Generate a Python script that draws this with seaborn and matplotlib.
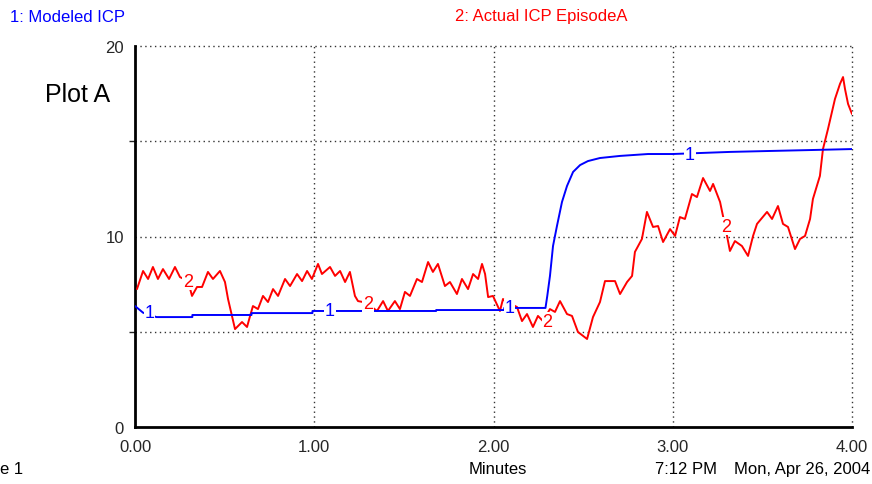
import matplotlib
matplotlib.use("Agg")
import matplotlib.pyplot as plt
import pandas as pd
import seaborn as sns

# Modeled ICP (series 1)
blue_t = [0.0, 0.045, 0.12, 0.32, 0.32, 0.65, 0.65, 0.99, 0.99, 1.68, 1.68, 2.06, 2.06, 2.29,
          2.30, 2.315, 2.332, 2.354, 2.382, 2.41, 2.444, 2.483, 2.527, 2.594, 2.706, 2.862,
          3.0, 3.319, 3.543, 3.777, 4.0]
blue_v = [6.35, 6.0, 5.77, 5.77, 5.88, 5.88, 5.98, 5.98, 6.09, 6.09, 6.14, 6.14, 6.25, 6.25,
          6.88, 7.93, 9.50, 10.55, 11.81, 12.65, 13.39, 13.75, 13.96, 14.12, 14.23, 14.33,
          14.33, 14.44, 14.49, 14.54, 14.59]

# Actual ICP EpisodeA (series 2)
red_t = [0.011, 0.045, 0.073, 0.100, 0.128, 0.156, 0.190, 0.223, 0.251, 0.296, 0.318, 0.346,
         0.374, 0.407, 0.435, 0.474, 0.502, 0.519, 0.541, 0.558, 0.575, 0.597, 0.625, 0.642,
         0.658, 0.686, 0.714, 0.742, 0.770, 0.798, 0.837, 0.865, 0.904, 0.932, 0.960, 0.987,
         1.021, 1.043, 1.088, 1.116, 1.144, 1.172, 1.199, 1.227, 1.244, 1.272, 1.300, 1.350,
         1.384, 1.411, 1.450, 1.478, 1.506, 1.534, 1.573, 1.601, 1.635, 1.662, 1.690, 1.729,
         1.757, 1.796, 1.824, 1.858, 1.886, 1.914, 1.936, 1.953, 1.970, 1.997, 2.036, 2.053,
         2.064, 2.131, 2.159, 2.187, 2.220, 2.248, 2.276, 2.315, 2.343, 2.371, 2.410, 2.438,
         2.471, 2.522, 2.555, 2.594, 2.622, 2.678, 2.706, 2.745, 2.773, 2.789, 2.828, 2.856,
         2.890, 2.918, 2.946, 2.985, 3.013, 3.040, 3.068, 3.107, 3.135, 3.169, 3.208, 3.225,
         3.264, 3.292, 3.319, 3.347, 3.386, 3.420, 3.448, 3.470, 3.526, 3.554, 3.587, 3.615,
         3.643, 3.682, 3.710, 3.738, 3.766, 3.782, 3.821, 3.838, 3.866, 3.905, 3.933, 3.950,
         3.961, 3.978, 4.000]
red_v = [7.24, 8.19, 7.77, 8.40, 7.77, 8.29, 7.77, 8.40, 7.87, 7.66, 6.88, 7.35,
         7.35, 8.14, 7.77, 8.19, 7.61, 6.72, 5.83, 5.14, 5.30, 5.51, 5.25, 5.83,
         6.35, 6.19, 6.88, 6.56, 7.24, 6.88, 7.77, 7.40, 8.03, 7.66, 8.19, 7.77,
         8.56, 8.03, 8.40, 7.93, 8.19, 7.61, 8.14, 6.88, 6.61, 6.56, 6.46, 6.09,
         6.61, 6.09, 6.61, 6.19, 7.09, 6.88, 7.77, 7.61, 8.66, 8.14, 8.56, 7.40,
         7.61, 6.98, 7.77, 7.24, 8.03, 7.77, 8.56, 8.03, 6.82, 6.88, 6.09, 6.72,
         6.61, 6.30, 5.56, 5.93, 5.25, 5.83, 5.56, 6.19, 6.04, 6.61, 5.93, 5.83,
         4.99, 4.62, 5.77, 6.56, 7.66, 7.66, 6.98, 7.61, 7.93, 9.19, 9.87, 11.29,
         10.50, 10.55, 9.71, 10.39, 10.03, 11.02, 10.92, 12.23, 12.07, 13.07, 12.39, 12.76,
         11.81, 10.55, 9.24, 9.76, 9.50, 8.98, 10.03, 10.66, 11.29, 10.92, 11.60, 10.66,
         10.50, 9.34, 9.87, 10.03, 10.92, 11.97, 13.18, 14.59, 15.64, 17.22, 18.01, 18.37,
         17.74, 16.96, 16.43]

# curve number markers (STELLA style)
label1_t = [0.08, 1.088, 2.09, 3.096]
label2_t = [0.296, 1.30, 2.30, 3.30]

x_ticks = [0, 1, 2, 3, 4]
x_labels = ["0.00", "1.00", "2.00", "3.00", "4.00"]
y_ticks = [0, 10, 20]

BLUE = "#0000ff"
RED = "#ff0000"

sns.set_style("white")
plt.rcParams['font.family'] = ['Liberation Sans', 'DejaVu Sans']

fig = plt.figure(figsize=(8.72, 4.85), dpi=100)
ax = fig.add_axes([135 / 872, 1 - 428 / 485, 717 / 872, 381 / 485])

blue_df = pd.DataFrame({"t": blue_t, "v": blue_v})
red_df = pd.DataFrame({"t": red_t, "v": red_v})
sns.lineplot(data=red_df, x="t", y="v", ax=ax, color=RED, lw=1.4, sort=False, estimator=None, zorder=3)
sns.lineplot(data=blue_df, x="t", y="v", ax=ax, color=BLUE, lw=1.4, sort=False, estimator=None, zorder=4)

ax.set_xlim(0, 4)
ax.set_ylim(0, 20)

# dotted grid, incl. the top and right edges
for yv in [5, 10, 15, 20]:
    ax.axhline(yv, color="#333333", ls=(0, (1, 2.5)), lw=1, zorder=1, clip_on=False)
for xv in [1, 2, 3, 4]:
    ax.axvline(xv, color="#333333", ls=(0, (1, 2.5)), lw=1, zorder=1, clip_on=False)

for s in ["top", "right"]:
    ax.spines[s].set_visible(False)
for s in ["left", "bottom"]:
    ax.spines[s].set_color("black")
    ax.spines[s].set_linewidth(2)

ax.set_xticks(x_ticks)
ax.set_xticklabels(x_labels)
ax.set_yticks(y_ticks)
ax.set_yticks([5, 15], minor=True)
ax.tick_params(axis="x", direction="inout", length=8, width=1.5, labelsize=12, pad=5)
ax.tick_params(axis="y", which="major", direction="out", length=6, width=1.5, labelsize=12, pad=2)
ax.tick_params(axis="y", which="minor", direction="out", length=4, width=1, left=True)
ax.set_xlabel("")
ax.set_ylabel("")

# in-line curve numbers
blue_s = pd.Series(blue_v, index=blue_t)
red_s = pd.Series(red_v, index=red_t)
for t in label1_t:
    yy = float(blue_s[blue_s.index <= t].iloc[-1])
    ax.text(t, yy, "1", color=BLUE, fontsize=13, ha="center", va="center", zorder=5,
            bbox=dict(facecolor="white", edgecolor="none", pad=0.5))
for t in label2_t:
    yy = float(red_s[red_s.index <= t].iloc[-1])
    ax.text(t, yy, "2", color=RED, fontsize=13, ha="center", va="center", zorder=5,
            bbox=dict(facecolor="white", edgecolor="none", pad=0.5))

fig.text(10 / 872, 1 - 17 / 485, "1: Modeled ICP", color=BLUE, fontsize=12, va="center")
fig.text(455 / 872, 1 - 17 / 485, "2: Actual ICP EpisodeA", color=RED, fontsize=12, va="center")
fig.text(45 / 872, 1 - 95 / 485, "Plot A", color="black", fontsize=18, va="center")
fig.text(0 / 872, 1 - 470 / 485, "e 1", color="black", fontsize=12, va="center")
fig.text(498 / 872, 1 - 470 / 485, "Minutes", color="black", fontsize=12, va="center", ha="center")
fig.text(655 / 872, 1 - 470 / 485, "7:12 PM", color="black", fontsize=12, va="center")
fig.text(870 / 872, 1 - 470 / 485, "Mon, Apr 26, 2004", color="black", fontsize=12, va="center", ha="right")

fig.savefig("out.png", dpi=100, facecolor="white")
